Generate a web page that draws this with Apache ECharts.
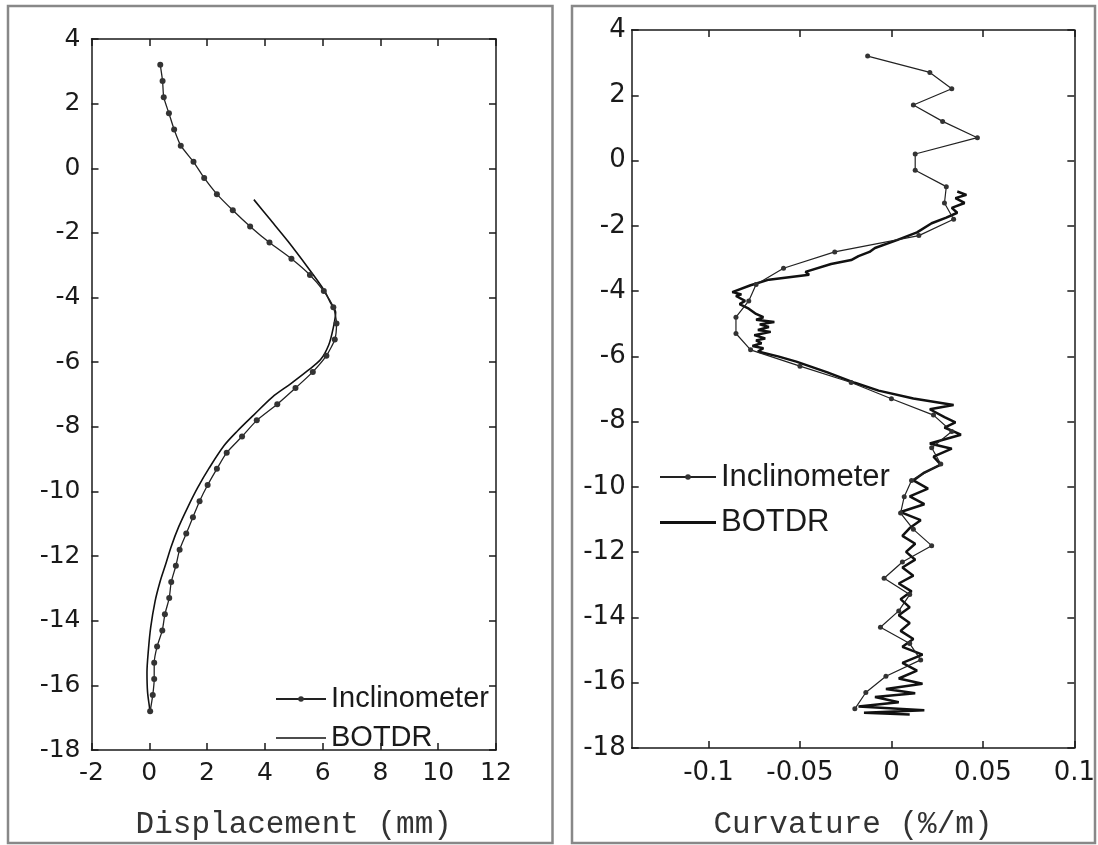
<!DOCTYPE html>
<html>
<head>
<meta charset="utf-8">
<script src="https://cdn.jsdelivr.net/npm/echarts@6/dist/echarts.min.js"></script>
<style>
html,body{margin:0;padding:0;background:#fff;}
#c{width:1098px;height:845px;}
</style>
</head>
<body>
<div id="c"></div>
<script>
// ---- Data ----
const yTicks = [-18,-16,-14,-12,-10,-8,-6,-4,-2,0,2,4];
const dispTicks = [-2,0,2,4,6,8,10,12];
const curvTicks = [-0.1,-0.05,0,0.05,0.1];

// Inclinometer depths (m)
const inclDepth = [3.2,2.7,2.2,1.7,1.2,0.7,0.2,-0.3,-0.8,-1.3,-1.8,-2.3,-2.8,-3.3,-3.8,-4.3,-4.8,-5.3,-5.8,-6.3,-6.8,-7.3,-7.8,-8.3,-8.8,-9.3,-9.8,-10.3,-10.8,-11.3,-11.8,-12.3,-12.8,-13.3,-13.8,-14.3,-14.8,-15.3,-15.8,-16.3,-16.8];
// Inclinometer displacement (mm)
const inclDisp = [0.38,0.46,0.50,0.68,0.86,1.09,1.53,1.90,2.34,2.89,3.49,4.16,4.92,5.56,6.04,6.37,6.48,6.42,6.13,5.66,5.06,4.43,3.72,3.21,2.68,2.34,2.02,1.74,1.51,1.28,1.05,0.92,0.76,0.69,0.54,0.45,0.27,0.17,0.17,0.12,0.03];
// Inclinometer curvature (%/m)
const inclCurv = [-0.013,0.021,0.033,0.012,0.028,0.047,0.013,0.013,0.030,0.029,0.034,0.015,-0.031,-0.059,-0.074,-0.078,-0.085,-0.085,-0.077,-0.050,-0.022,0.000,0.023,0.033,0.022,0.027,0.011,0.007,0.005,0.012,0.022,0.006,-0.004,0.010,0.004,-0.006,0.010,0.016,-0.003,-0.014,-0.020];

// BOTDR displacement profile
const botdrDepthL = [-0.97,-1.55,-2.26,-3.11,-3.76,-4.16,-4.46,-4.97,-5.47,-5.92,-6.27,-6.67,-7.08,-7.63,-8.13,-8.58,-9.28,-9.89,-10.49,-11.09,-11.7,-12.3,-12.8,-13.4,-14.2,-14.9,-15.6,-16.2,-16.7,-16.85];
const botdrDispL = [3.62,4.15,4.80,5.52,6.04,6.27,6.45,6.36,6.21,5.93,5.47,4.89,4.26,3.62,3.05,2.59,2.07,1.67,1.33,1.02,0.76,0.55,0.37,0.20,0.05,-0.03,-0.08,-0.06,0.01,0.03];

// BOTDR curvature profile
const botdrDepthR = [-0.95,-1.05,-1.15,-1.3,-1.45,-1.6,-1.75,-1.92,-2.2,-2.44,-2.68,-2.8,-2.93,-3.05,-3.17,-3.41,-3.5,-3.65,-3.82,-4.03,-4.1,-4.15,-4.3,-4.4,-4.54,-4.7,-4.8,-4.88,-4.95,-5.02,-5.1,-5.19,-5.25,-5.35,-5.45,-5.51,-5.6,-5.68,-5.75,-5.85,-6.0,-6.16,-6.49,-6.81,-7.05,-7.29,-7.49,-7.62,-7.86,-8.02,-8.18,-8.4,-8.67,-8.83,-9.07,-9.32,-9.56,-9.8,-10.05,-10.29,-10.53,-10.77,-11.02,-11.26,-11.5,-11.74,-11.99,-12.23,-12.47,-12.72,-12.96,-13.2,-13.44,-13.69,-13.93,-14.17,-14.41,-14.66,-14.9,-15.14,-15.39,-15.63,-15.87,-16.03,-16.19,-16.32,-16.44,-16.6,-16.73,-16.84,-16.92,-16.97];
const botdrCurvR = [0.036,0.041,0.035,0.040,0.033,0.036,0.030,0.022,0.014,0.003,-0.009,-0.012,-0.018,-0.022,-0.033,-0.047,-0.045,-0.067,-0.077,-0.087,-0.082,-0.085,-0.080,-0.083,-0.078,-0.074,-0.070,-0.074,-0.064,-0.072,-0.067,-0.073,-0.066,-0.075,-0.069,-0.074,-0.071,-0.076,-0.070,-0.073,-0.062,-0.052,-0.035,-0.020,-0.007,0.012,0.034,0.021,0.029,0.035,0.029,0.038,0.021,0.033,0.023,0.027,0.018,0.012,0.020,0.010,0.018,0.005,0.016,0.010,0.006,0.013,0.008,0.013,0.006,0.012,0.004,0.011,0.005,0.010,0.004,0.010,0.005,0.012,0.006,0.017,0.006,0.014,0.004,0.017,-0.003,0.013,-0.009,0.004,-0.018,0.018,-0.015,0.010];

const pairs = (xs, ys) => xs.map((x, i) => [x, ys[i]]);

const AX = '#1a1a1a';
const TXT = '#1a1a1a';

function xAxisBase(gi, pos, min, max, ticks, show, fs) {
  return {
    type: 'value', gridIndex: gi, position: pos, min: min, max: max,
    axisLine: {show: true, onZero: false, lineStyle: {color: AX, width: 1.5}},
    axisTick: {show: true, inside: true, length: 7, customValues: ticks, lineStyle: {color: AX, width: 1.5}},
    axisLabel: {show: show, margin: 11, customValues: ticks, fontFamily: 'DejaVu Sans', fontSize: fs, color: TXT},
    splitLine: {show: false}
  };
}
function yAxisBase(gi, pos, show, margin, fs) {
  return {
    type: 'value', gridIndex: gi, position: pos, min: -18, max: 4, interval: 2,
    axisLine: {show: true, onZero: false, lineStyle: {color: AX, width: 1.5}},
    axisTick: {show: true, inside: true, length: 7, lineStyle: {color: AX, width: 1.5}},
    axisLabel: {show: show, margin: margin, fontFamily: 'DejaVu Sans', fontSize: fs, color: TXT},
    splitLine: {show: false}
  };
}

const xL = xAxisBase(0, 'bottom', -2, 12, dispTicks, true, 25);
xL.name = 'Displacement (mm)';
xL.nameLocation = 'middle';
xL.nameGap = 59;
xL.nameTextStyle = {fontFamily: 'Liberation Mono', fontSize: 31, color: '#333'};
const xLt = xAxisBase(0, 'top', -2, 12, dispTicks, false, 25);
const xR = xAxisBase(1, 'bottom', -0.142, 0.1, curvTicks, true, 26);
xR.name = 'Curvature (%/m)';
xR.nameLocation = 'middle';
xR.nameGap = 61;
xR.nameTextStyle = {fontFamily: 'Liberation Mono', fontSize: 31, color: '#333'};
xR.axisLabel.margin = 12;
const xRt = xAxisBase(1, 'top', -0.142, 0.1, curvTicks, false, 26);

const chart = echarts.init(document.getElementById('c'), null, {renderer: 'canvas'});
chart.setOption({
  backgroundColor: '#fff',
  animation: false,
  graphic: [
    {type: 'rect', shape: {x: 8, y: 6, width: 544.5, height: 837}, style: {fill: 'none', stroke: '#888', lineWidth: 2.5}, z: 0},
    {type: 'rect', shape: {x: 572, y: 6, width: 523, height: 837}, style: {fill: 'none', stroke: '#888', lineWidth: 2.5}, z: 0}
  ],
  grid: [
    {left: 91.5, top: 39, width: 404.5, height: 730},
    {left: 631.7, top: 30, width: 445, height: 737.3}
  ],
  xAxis: [xL, xLt, xR, xRt],
  yAxis: [yAxisBase(0, 'left', true, 11, 25), yAxisBase(0, 'right', false, 8, 25), yAxisBase(1, 'left', true, 6, 26), yAxisBase(1, 'right', false, 8, 26)],
  legend: [
    {
      orient: 'vertical', left: 270, top: 679, itemWidth: 50, itemHeight: 7, itemGap: 9,
      textStyle: {fontFamily: 'Liberation Sans', fontSize: 29, color: TXT, lineHeight: 30},
      selectedMode: false,
      data: [
        {name: 'Inclinometer'},
        {name: 'BOTDR', icon: 'path://M0,0H50V1.3H0Z', itemStyle: {color: '#111'}}
      ]
    },
    {
      orient: 'vertical', left: 654, top: 455, itemWidth: 56, itemHeight: 7, itemGap: 11.6,
      textStyle: {fontFamily: 'Liberation Sans', fontSize: 31, color: TXT, lineHeight: 34},
      selectedMode: false,
      data: [
        {name: 'Inclinometer'},
        {name: 'BOTDR', icon: 'path://M0,0H56V3H0Z', itemStyle: {color: '#111'}}
      ]
    }
  ],
  series: [
    {
      name: 'Inclinometer', type: 'line', xAxisIndex: 0, yAxisIndex: 0,
      data: pairs(inclDisp, inclDepth), smooth: 0.2,
      symbol: 'circle', symbolSize: 6, showSymbol: true,
      lineStyle: {color: '#222', width: 1.3}, itemStyle: {color: '#333'}, z: 3
    },
    {
      name: 'BOTDR', type: 'line', xAxisIndex: 0, yAxisIndex: 0,
      data: pairs(botdrDispL, botdrDepthL), smooth: 0.3, symbol: 'none',
      lineStyle: {color: '#111', width: 1.6}, itemStyle: {color: '#111'}, z: 2
    },
    {
      name: 'Inclinometer', type: 'line', xAxisIndex: 2, yAxisIndex: 2,
      data: pairs(inclCurv, inclDepth),
      symbol: 'circle', symbolSize: 5, showSymbol: true,
      lineStyle: {color: '#222', width: 1.2}, itemStyle: {color: '#333'}, z: 3
    },
    {
      name: 'BOTDR', type: 'line', xAxisIndex: 2, yAxisIndex: 2,
      data: pairs(botdrCurvR, botdrDepthR), symbol: 'none',
      lineStyle: {color: '#111', width: 2.5}, itemStyle: {color: '#111'}, z: 2
    }
  ]
});
</script>
</body>
</html>
